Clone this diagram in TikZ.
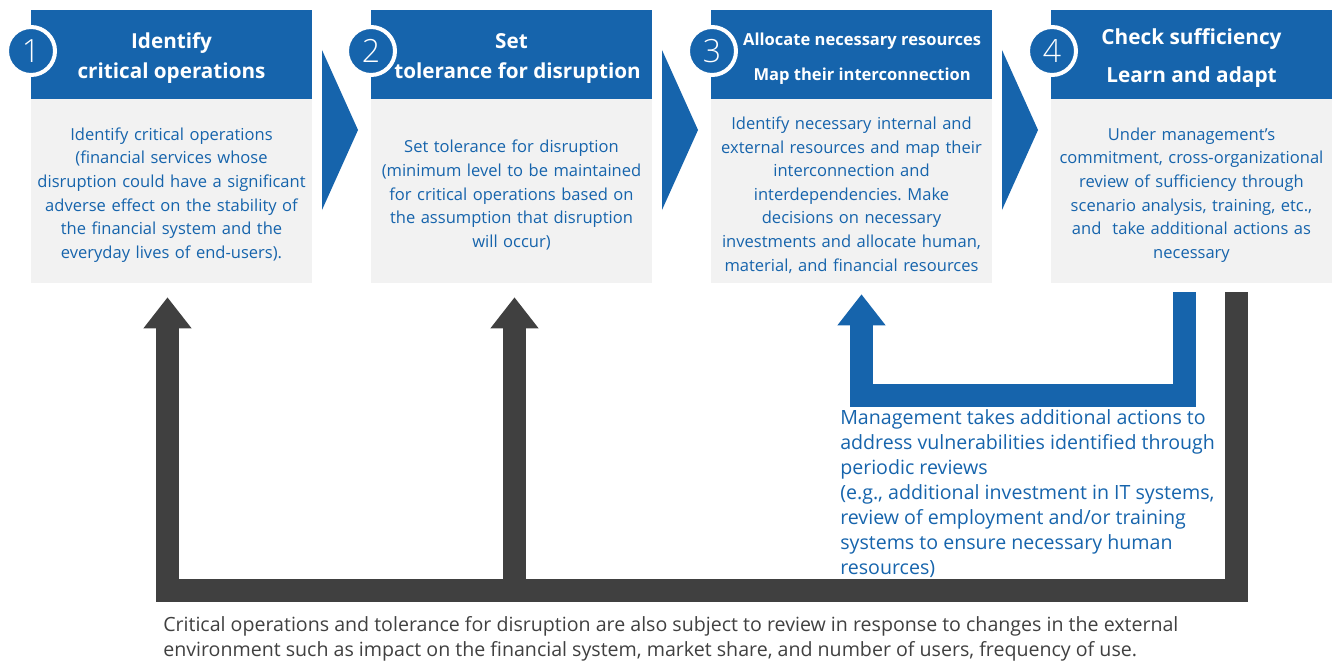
\documentclass[tikz,border=0pt]{standalone}
\usepackage{fontspec}
\setmainfont{Open Sans}
\IfFontExistsTF{Open Sans Light}{\newfontfamily\numfont{Open Sans Light}}{\newfontfamily\numfont{Open Sans}}
\usetikzlibrary{arrows.meta}
\definecolor{fsablue}{RGB}{22,100,172}
\definecolor{fsagray}{RGB}{242,242,242}
\definecolor{fsadark}{RGB}{64,64,64}
\tikzset{%
	head/.style   = {fill=fsablue, minimum width=210.75pt,
		minimum height=66.75pt, inner sep=0pt},
	body/.style   = {fill=fsagray, minimum width=210.75pt,
		minimum height=138pt, inner sep=0pt},
	headtext/.style = {text=white, align=center, inner sep=0pt, yshift=-3pt,
		font=\bfseries\fontsize{15.5}{22.5}\selectfont},
	bodytext/.style = {text=fsablue, text width=210pt, align=center,
		inner sep=0pt, yshift=-3pt, font=\fontsize{12.4}{17.7}\selectfont},
	num/.style    = {circle, fill=fsablue, draw=white, line width=3pt,
		minimum size=36pt, inner sep=0pt, text=white,
		font=\numfont\fontsize{24}{24}\selectfont}, % step number
	chev/.style   = {fill=fsablue}, % arrow between steps
	back/.style   = {draw=fsadark, line width=17.25pt,
		-{Triangle[width=34.5pt,length=23.25pt]}},
	fix/.style    = {draw=fsablue, line width=17.25pt,
		-{Triangle[width=34.5pt,length=23.25pt]}},
	note/.style   = {align=left, inner sep=0pt, anchor=north west,
		font=\fontsize{14.7}{18.75}\selectfont}
}
\frenchspacing

\begin{document}
\begin{tikzpicture}[x=0.75pt,y=-0.75pt]
	\useasboundingbox (0,0) rectangle (1341,660);
	
	% four steps
	\node[head] at (171.5,54.5) (h1) {};
	\node[head] at (511.5,54.5) (h2) {};
	\node[head] at (851.5,54.5) (h3) {};
	\node[head] at (1191.5,54.5) (h4) {};
	\node[body] at (171.5,191) (b1) {};
	\node[body] at (511.5,191) (b2) {};
	\node[body] at (851.5,191) (b3) {};
	\node[body] at (1191.5,191) (b4) {};
	
	\node[headtext] at (h1) {Identify\\critical operations};
	\node[headtext] at (h2) {Set\\\hspace*{9pt}tolerance for disruption};
	\node[headtext,xshift=8pt,font=\bfseries\fontsize{12.4}{26.25}\selectfont] at (h3) {Allocate necessary resources\\Map their interconnection};
	\node[headtext,font=\bfseries\fontsize{15.6}{28.5}\selectfont] at (h4) {Check sufficiency\\Learn and adapt};
	
	\node[bodytext] at (b1) {Identify critical operations\\(financial services whose\\disruption could have a significant\\adverse effect on the stability of\\the financial system and the\\everyday lives of end-users).};
	\node[bodytext] at (b2) {Set tolerance for disruption\\(minimum level to be maintained\\for critical operations based on\\the assumption that disruption\\will occur)};
	\node[bodytext] at (b3) {Identify necessary internal and\\external resources and map their\\interconnection and\\interdependencies. Make\\decisions on necessary\\investments and allocate human,\\material, and financial resources};
	\node[bodytext] at (b4) {Under management's\\commitment, cross-organizational\\review of sufficiency through\\scenario analysis, training, etc.,\\and \ take additional actions as\\necessary};
	
	\node[num] at (31,51) (n1) {1};
	\node[num] at (371,51) (n2) {2};
	\node[num] at (712,51) (n3) {3};
	\node[num] at (1052,51) (n4) {4};
	
	\foreach \x in {322,662,1002}
		\fill[chev] (\x,50) -- (\x+36,130) -- (\x,210) -- cycle;
	
	% review loops
	\coordinate (fb) at (1236.5,292);
	\coordinate (base1) at (167.5,590.5);
	\coordinate (base2) at (514.5,590.5);
	\coordinate (rb) at (1184.5,292);
	\coordinate (rbase) at (861.5,395.5);
	
	\draw[back,shorten >=10.5pt] (fb) |- (base1) -- (b1.south -| base1);
	\draw[back,shorten >=10.5pt] (base2) -- (b2.south -| base2);
	\draw[fix,shorten >=8.25pt] (rb) |- (rbase) -- (b3.south -| rbase);
	
	\node[note,text=fsablue] at (840,409) (mgmt) {Management takes additional actions to\\address vulnerabilities identified through\\periodic reviews\\(e.g., additional investment in IT systems,\\review of employment and/or training\\systems to ensure necessary human\\resources)};
	\node[note,text=fsadark] at (163,616) (remark) {Critical operations and tolerance for disruption are also subject to review in response to changes in the external\\environment such as impact on the financial system, market share, and number of users, frequency of use.};
	
\end{tikzpicture}
\end{document}
